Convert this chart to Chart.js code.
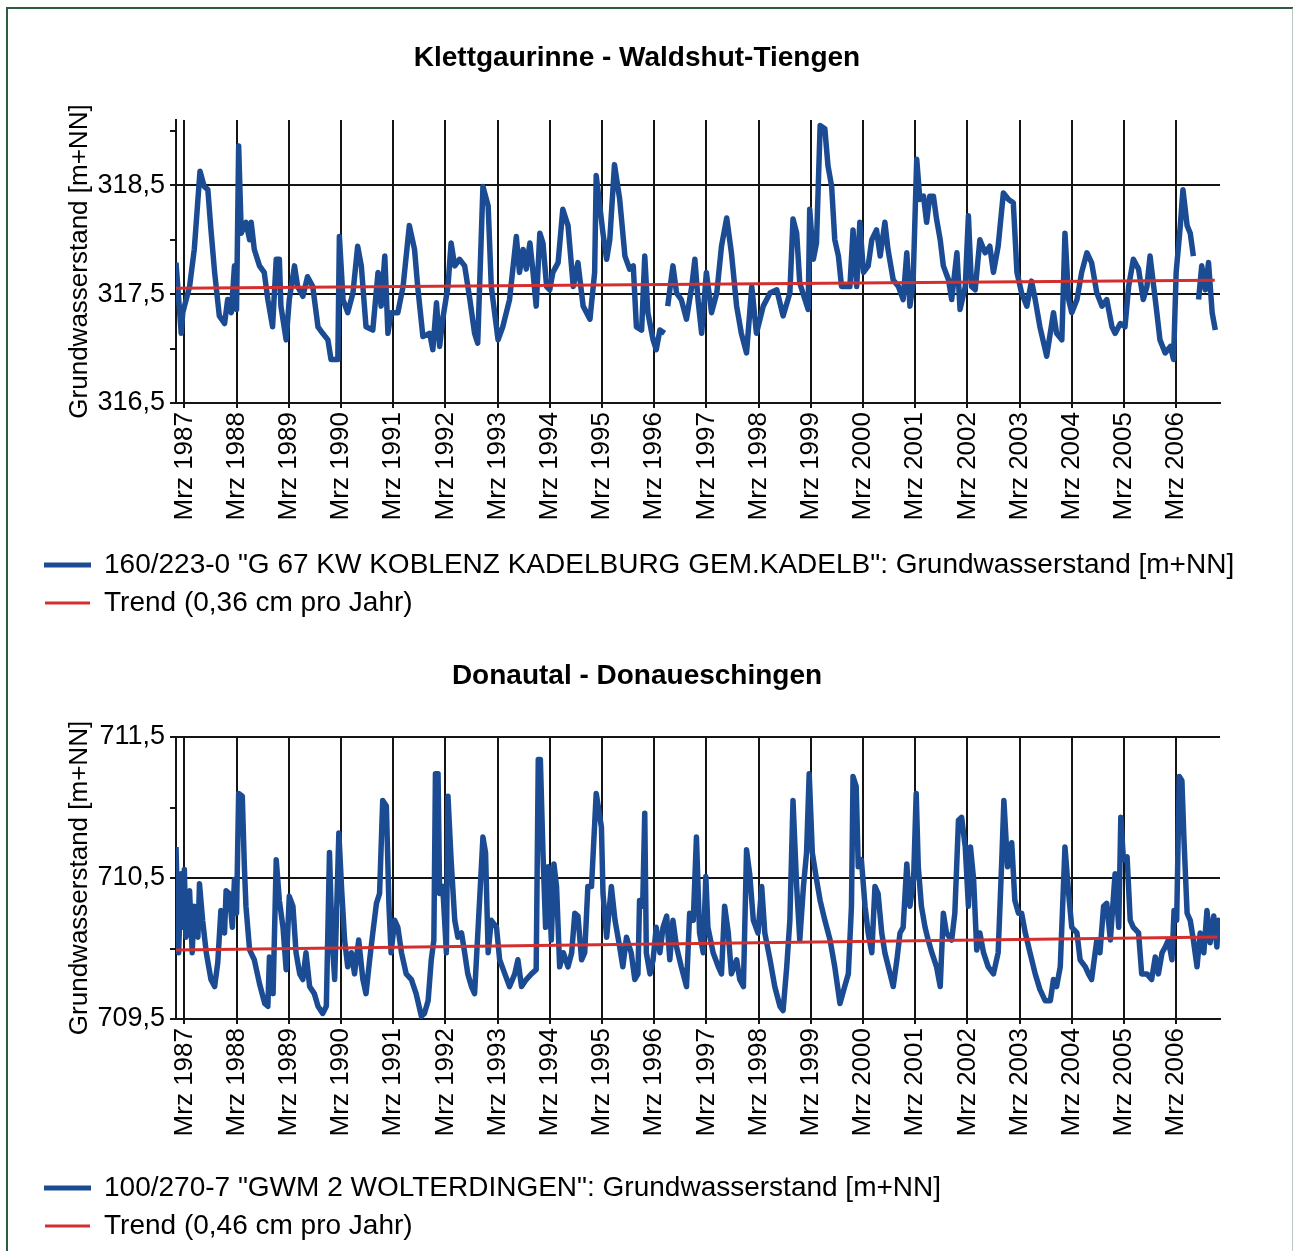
<!DOCTYPE html>
<html>
<head>
<meta charset="utf-8">
<script src="https://cdn.jsdelivr.net/npm/chart.js@4.4.1/dist/chart.umd.min.js"></script>
<style>
    html, body { margin: 0; padding: 0; background: #ffffff; }
    body { width: 1293px; height: 1251px; position: relative; overflow: hidden; }
    canvas { position: absolute; left: 0; }
    #frame {
        position: absolute; left: 6px; top: 7px; width: 1284px; height: 1300px;
        border-left: 2px solid #2e5b41; border-top: 2px solid #2e5b41; border-right: 2px solid #b9c9be;
        pointer-events: none;
    }
</style>
</head>
<body>
<canvas id="chartKlett" width="1293" height="627" style="top:0px"></canvas>
<canvas id="chartDonau" width="1293" height="624" style="top:627px"></canvas>
<div id="frame"></div>
<script>
// Axis ticks (one gridline each March)
const tickYears = [1987, 1988, 1989, 1990, 1991, 1992, 1993, 1994, 1995, 1996,
                   1997, 1998, 1999, 2000, 2001, 2002, 2003, 2004, 2005, 2006];
const tickLabels = tickYears.map(y => 'Mrz ' + y);

const klettTicks = [316.5, 317, 317.5, 318, 318.5, 319];
const klettLabelled = [316.5, 317.5, 318.5];
const donauTicks = [709.5, 710, 710.5, 711, 711.5];
const donauLabelled = [709.5, 710.5, 711.5];

// Groundwater level, Klettgaurinne (decimal year, m+NN); null = gap in record
const klettSeries = [
    [1987.00, 317.79], [1987.10, 317.14], [1987.13, 317.33], [1987.26, 317.57], [1987.35, 317.91], [1987.42, 318.37], [1987.46, 318.63],
    [1987.54, 318.49], [1987.61, 318.46], [1987.67, 318.09], [1987.74, 317.70], [1987.83, 317.30], [1987.93, 317.23], [1987.99, 317.45],
    [1988.06, 317.33], [1988.12, 317.76], [1988.16, 317.36], [1988.20, 318.86], [1988.25, 318.06], [1988.34, 318.16], [1988.41, 318.00],
    [1988.44, 318.16], [1988.50, 317.91], [1988.60, 317.76], [1988.69, 317.70], [1988.76, 317.45], [1988.85, 317.20], [1988.92, 317.82], [1988.98, 317.82],
    [1989.01, 317.39], [1989.11, 317.08], [1989.17, 317.45], [1989.27, 317.76], [1989.33, 317.57], [1989.43, 317.48], [1989.52, 317.66],
    [1989.62, 317.57], [1989.72, 317.20], [1989.81, 317.14], [1989.91, 317.08], [1989.97, 316.90],
    [1990.10, 316.90], [1990.13, 318.03], [1990.20, 317.45], [1990.29, 317.33], [1990.39, 317.51], [1990.48, 317.94], [1990.55, 317.76],
    [1990.64, 317.20], [1990.77, 317.17], [1990.87, 317.70], [1990.93, 317.39],
    [1991.00, 317.85], [1991.06, 317.14], [1991.12, 317.33], [1991.25, 317.33], [1991.35, 317.57], [1991.47, 318.13], [1991.57, 317.91],
    [1991.63, 317.57], [1991.73, 317.11], [1991.86, 317.14], [1991.92, 316.99], [1991.99, 317.42],
    [1992.05, 317.02], [1992.11, 317.27], [1992.21, 317.57], [1992.27, 317.97], [1992.34, 317.76], [1992.43, 317.82], [1992.53, 317.76],
    [1992.63, 317.45], [1992.72, 317.14], [1992.78, 317.05], [1992.88, 318.49], [1992.98, 318.31],
    [1993.04, 317.57], [1993.17, 317.08], [1993.26, 317.20], [1993.39, 317.45], [1993.52, 318.03], [1993.58, 317.70], [1993.65, 317.91],
    [1993.71, 317.73], [1993.78, 317.97], [1993.84, 317.70], [1993.90, 317.39], [1993.97, 318.06],
    [1994.03, 317.97], [1994.10, 317.57], [1994.16, 317.54], [1994.22, 317.70], [1994.32, 317.79], [1994.41, 318.28], [1994.51, 318.13],
    [1994.61, 317.57], [1994.70, 317.79], [1994.80, 317.39], [1994.93, 317.27],
    [1995.02, 317.70], [1995.05, 318.59], [1995.18, 318.06], [1995.25, 317.82], [1995.31, 318.00], [1995.40, 318.69], [1995.50, 318.37],
    [1995.60, 317.85], [1995.69, 317.73], [1995.76, 317.76], [1995.82, 317.20], [1995.92, 317.17], [1995.98, 317.85],
    [1996.04, 317.33], [1996.14, 317.08], [1996.20, 316.99], [1996.27, 317.17], [1996.36, 317.14], [1996.39, null], [1996.42, 317.39],
    [1996.46, 317.54], [1996.52, 317.76], [1996.59, 317.51], [1996.68, 317.45], [1996.78, 317.27], [1996.88, 317.57], [1996.94, 317.82],
    [1997.00, 317.45], [1997.07, 317.14], [1997.16, 317.70], [1997.26, 317.33], [1997.36, 317.51], [1997.45, 317.94], [1997.55, 318.20],
    [1997.64, 317.88], [1997.74, 317.39], [1997.83, 317.14], [1997.93, 316.96],
    [1998.03, 317.57], [1998.12, 317.14], [1998.25, 317.39], [1998.38, 317.51], [1998.51, 317.54], [1998.63, 317.30], [1998.76, 317.51],
    [1998.82, 318.19], [1998.89, 318.06], [1998.95, 317.60],
    [1999.05, 317.45], [1999.11, 317.36], [1999.14, 318.28], [1999.21, 317.82], [1999.27, 317.97], [1999.34, 319.05], [1999.43, 319.02],
    [1999.49, 318.68], [1999.56, 318.49], [1999.62, 318.00], [1999.69, 317.85], [1999.75, 317.57], [1999.81, 317.57], [1999.91, 317.57], [1999.97, 318.09],
    [2000.04, 317.57], [2000.10, 318.16], [2000.17, 317.70], [2000.26, 317.76], [2000.33, 318.00], [2000.42, 318.09], [2000.49, 317.85],
    [2000.58, 318.16], [2000.64, 317.91], [2000.74, 317.63], [2000.84, 317.57], [2000.93, 317.45],
    [2001.00, 317.88], [2001.06, 317.39], [2001.12, 317.60], [2001.19, 318.74], [2001.25, 318.37], [2001.32, 318.40], [2001.38, 318.16],
    [2001.44, 318.40], [2001.51, 318.40], [2001.57, 318.19], [2001.64, 318.00], [2001.70, 317.76], [2001.80, 317.63], [2001.86, 317.45], [2001.96, 317.88],
    [2002.02, 317.36], [2002.12, 317.57], [2002.18, 318.22], [2002.24, 317.57], [2002.31, 317.54], [2002.40, 318.00], [2002.50, 317.88],
    [2002.59, 317.94], [2002.66, 317.70], [2002.75, 317.94], [2002.85, 318.43], [2002.95, 318.37],
    [2003.04, 318.34], [2003.11, 317.70], [2003.20, 317.51], [2003.30, 317.39], [2003.39, 317.62], [2003.46, 317.45], [2003.55, 317.20],
    [2003.68, 316.93], [2003.81, 317.33], [2003.87, 317.14], [2003.97, 317.08],
    [2004.03, 318.06], [2004.10, 317.45], [2004.16, 317.33], [2004.26, 317.45], [2004.35, 317.70], [2004.45, 317.88], [2004.54, 317.79],
    [2004.64, 317.51], [2004.74, 317.39], [2004.83, 317.45], [2004.93, 317.20], [2004.99, 317.14],
    [2005.09, 317.23], [2005.18, 317.20], [2005.25, 317.57], [2005.34, 317.82], [2005.44, 317.73], [2005.53, 317.45], [2005.60, 317.57],
    [2005.66, 317.85], [2005.73, 317.57], [2005.79, 317.33], [2005.85, 317.08], [2005.95, 316.96],
    [2006.05, 317.02], [2006.11, 316.90], [2006.16, 317.70], [2006.24, 318.13], [2006.29, 318.46], [2006.37, 318.13], [2006.43, 318.06],
    [2006.49, 317.85], [2006.54, null], [2006.59, 317.45], [2006.65, 317.76], [2006.72, 317.54], [2006.78, 317.79], [2006.85, 317.33], [2006.91, 317.17]
];
const klettTrend = [[1987.00, 317.555], [2006.90, 317.627]];

// Groundwater level, Donautal (decimal year, m+NN)
const donauSeries = [
    [1987.00, 710.72], [1987.05, 709.97], [1987.10, 710.53], [1987.13, 710.15], [1987.16, 710.56], [1987.19, 710.08], [1987.26, 710.41],
    [1987.31, 709.97], [1987.35, 710.30], [1987.42, 710.08], [1987.45, 710.46], [1987.51, 710.20], [1987.58, 709.97], [1987.67, 709.78],
    [1987.74, 709.73], [1987.80, 709.90], [1987.86, 710.27], [1987.93, 710.11], [1987.96, 710.41],
    [1988.02, 710.39], [1988.08, 710.15], [1988.12, 710.49], [1988.16, 710.25], [1988.20, 711.10], [1988.27, 711.08], [1988.31, 710.58],
    [1988.34, 710.30], [1988.41, 709.99], [1988.50, 709.92], [1988.60, 709.75], [1988.70, 709.61], [1988.76, 709.59], [1988.79, 709.94],
    [1988.86, 709.68], [1988.92, 710.63], [1988.98, 710.34],
    [1989.05, 710.15], [1989.11, 709.85], [1989.17, 710.37], [1989.24, 710.30], [1989.30, 709.97], [1989.37, 709.82], [1989.43, 709.78],
    [1989.49, 709.97], [1989.56, 709.73], [1989.65, 709.68], [1989.72, 709.59], [1989.81, 709.54], [1989.88, 709.59], [1989.94, 710.68], [1989.99, 710.06],
    [1990.04, 709.78], [1990.12, 710.82], [1990.17, 710.44], [1990.23, 710.06], [1990.29, 709.87], [1990.36, 709.97], [1990.42, 709.82],
    [1990.50, 710.06], [1990.58, 709.78], [1990.64, 709.68], [1990.71, 709.92], [1990.77, 710.11], [1990.84, 710.32], [1990.90, 710.39], [1990.96, 711.05],
    [1991.03, 711.01], [1991.08, 710.30], [1991.12, 709.97], [1991.19, 710.20], [1991.25, 710.15], [1991.32, 709.97], [1991.41, 709.82],
    [1991.51, 709.78], [1991.60, 709.68], [1991.70, 709.52], [1991.76, 709.54], [1991.83, 709.63], [1991.89, 709.92], [1991.94, 710.06], [1991.97, 711.24],
    [1992.02, 711.24], [1992.05, 710.39], [1992.11, 710.44], [1992.18, 709.97], [1992.21, 711.08], [1992.27, 710.63], [1992.34, 710.20],
    [1992.40, 710.08], [1992.47, 710.11], [1992.53, 709.97], [1992.59, 709.82], [1992.66, 709.73], [1992.72, 709.68], [1992.82, 710.37],
    [1992.88, 710.79], [1992.93, 710.68], [1992.98, 709.97],
    [1993.04, 710.20], [1993.14, 710.15], [1993.20, 709.92], [1993.30, 709.82], [1993.39, 709.73], [1993.49, 709.82], [1993.55, 709.92],
    [1993.62, 709.73], [1993.71, 709.78], [1993.81, 709.82], [1993.90, 709.85], [1993.94, 711.34], [1993.98, 711.34],
    [1994.03, 710.68], [1994.08, 710.15], [1994.13, 710.58], [1994.19, 710.06], [1994.24, 710.60], [1994.29, 710.44], [1994.35, 709.87],
    [1994.42, 709.97], [1994.51, 709.87], [1994.58, 709.97], [1994.64, 710.25], [1994.70, 710.23], [1994.77, 709.92], [1994.83, 709.97],
    [1994.89, 710.44], [1994.96, 710.44],
    [1995.05, 711.10], [1995.15, 710.86], [1995.18, 710.39], [1995.25, 710.08], [1995.34, 710.44], [1995.41, 710.20], [1995.50, 710.01],
    [1995.56, 709.87], [1995.63, 710.08], [1995.72, 709.97], [1995.79, 709.78], [1995.85, 709.82], [1995.88, 710.34], [1995.94, 710.30], [1995.98, 710.96],
    [1996.01, 709.97], [1996.08, 709.82], [1996.14, 709.92], [1996.20, 710.15], [1996.27, 709.97], [1996.33, 710.15], [1996.40, 710.23],
    [1996.46, 709.92], [1996.52, 710.20], [1996.59, 710.01], [1996.68, 709.87], [1996.78, 709.73], [1996.84, 710.25], [1996.91, 710.20], [1996.97, 710.79],
    [1997.03, 710.11], [1997.10, 709.97], [1997.15, 710.51], [1997.19, 710.15], [1997.29, 709.97], [1997.39, 709.87], [1997.45, 709.82],
    [1997.51, 710.30], [1997.58, 710.11], [1997.64, 709.82], [1997.74, 709.92], [1997.80, 709.78], [1997.87, 709.73], [1997.93, 710.70], [1997.99, 710.53],
    [1998.06, 710.20], [1998.15, 710.11], [1998.22, 710.44], [1998.28, 710.11], [1998.38, 709.92], [1998.47, 709.73], [1998.57, 709.59],
    [1998.63, 709.56], [1998.70, 709.87], [1998.76, 710.20], [1998.82, 711.05], [1998.89, 710.44], [1998.95, 710.06],
    [1999.02, 710.44], [1999.08, 710.68], [1999.13, 711.24], [1999.19, 710.68], [1999.27, 710.49], [1999.34, 710.34], [1999.43, 710.20],
    [1999.53, 710.06], [1999.62, 709.87], [1999.72, 709.61], [1999.81, 709.73], [1999.88, 709.82], [1999.94, 710.30], [1999.97, 711.22],
    [2000.03, 711.15], [2000.07, 710.58], [2000.13, 710.63], [2000.20, 710.30], [2000.26, 710.11], [2000.33, 709.97], [2000.39, 710.44],
    [2000.45, 710.39], [2000.52, 710.11], [2000.58, 709.97], [2000.68, 709.82], [2000.74, 709.73], [2000.81, 709.92], [2000.87, 710.11], [2000.93, 710.15],
    [2001.00, 710.60], [2001.06, 710.30], [2001.13, 710.49], [2001.18, 711.10], [2001.22, 710.58], [2001.28, 710.30], [2001.35, 710.15],
    [2001.41, 710.06], [2001.48, 709.97], [2001.57, 709.87], [2001.64, 709.73], [2001.70, 710.25], [2001.76, 710.11], [2001.86, 710.06],
    [2001.92, 710.25], [2001.99, 710.91],
    [2002.05, 710.93], [2002.12, 710.72], [2002.18, 710.30], [2002.22, 710.72], [2002.28, 710.49], [2002.34, 709.99], [2002.40, 710.11],
    [2002.47, 709.97], [2002.56, 709.87], [2002.66, 709.82], [2002.75, 709.97], [2002.82, 710.63], [2002.86, 711.05], [2002.93, 710.58],
    [2003.01, 710.75], [2003.07, 710.34], [2003.14, 710.25], [2003.20, 710.25], [2003.27, 710.11], [2003.36, 709.97], [2003.46, 709.82],
    [2003.55, 709.71], [2003.65, 709.63], [2003.75, 709.63], [2003.81, 709.78], [2003.87, 709.73], [2003.94, 709.87],
    [2004.03, 710.72], [2004.10, 710.39], [2004.16, 710.15], [2004.26, 710.11], [2004.32, 709.92], [2004.42, 709.87], [2004.48, 709.82],
    [2004.54, 709.78], [2004.64, 710.06], [2004.70, 709.97], [2004.77, 710.30], [2004.83, 710.32], [2004.90, 710.06], [2004.99, 710.53],
    [2005.06, 710.15], [2005.10, 710.93], [2005.15, 710.63], [2005.22, 710.65], [2005.28, 710.20], [2005.34, 710.15], [2005.44, 710.11],
    [2005.50, 709.82], [2005.60, 709.82], [2005.69, 709.78], [2005.76, 709.94], [2005.82, 709.82], [2005.89, 709.97], [2005.95, 710.01],
    [2006.01, 710.06], [2006.08, 709.92], [2006.12, 710.27], [2006.17, 710.20], [2006.22, 711.22], [2006.27, 711.19], [2006.31, 710.77],
    [2006.37, 710.25], [2006.43, 710.20], [2006.49, 710.06], [2006.56, 709.87], [2006.62, 710.11], [2006.69, 709.97], [2006.75, 710.27],
    [2006.81, 710.04], [2006.88, 710.23], [2006.94, 710.01], [2006.97, 710.20], [2007.00, 710.08]
];
const donauTrend = [[1987.00, 709.99], [2006.95, 710.082]];

document.addEventListener('DOMContentLoaded', function () {
    const FONT = "'Liberation Sans', Arial, sans-serif";
    const BLUE = '#1b4c93';
    const RED = '#d42f2f';
    const GRID = '#141414';
    const MARCH = 59 / 365;   // 1 March as fraction of a year

    const toPoints = arr => arr.map(p => ({ x: p[0], y: p[1] }));

    // ================================
    // One groundwater panel
    // ================================
    function buildChart(id, cfg) {
        return new Chart(document.getElementById(id), {
            type: 'line',
            data: {
                datasets: [{
                    label: cfg.seriesLabel,
                    data: toPoints(cfg.series),
                    borderColor: BLUE,
                    borderWidth: 5.5,
                    borderJoinStyle: 'round',
                    pointRadius: 0,
                    spanGaps: false,
                    order: 2
                }, {
                    label: cfg.trendLabel,
                    data: toPoints(cfg.trend),
                    borderColor: RED,
                    borderWidth: 3,
                    pointRadius: 0,
                    order: 1                                // trend drawn over the series
                }]
            },
            options: {
                responsive: false,
                animation: false,
                devicePixelRatio: 1,
                layout: { padding: { top: cfg.padTop, left: 35, right: 54, bottom: cfg.padBottom } },
                plugins: {
                    title: {
                        display: true,
                        text: cfg.title,
                        color: '#000',
                        font: { family: FONT, size: 28, weight: 'bold' },
                        padding: { top: 22, bottom: cfg.titleGap }
                    },
                    legend: {
                        position: 'bottom',
                        align: 'start',
                        labels: {
                            boxWidth: 45,
                            boxHeight: 3,
                            padding: 10,
                            color: '#000',
                            font: { family: FONT, size: 28 },
                            generateLabels: chart => chart.data.datasets.map((ds, i) => ({
                                text: ds.label,
                                fillStyle: ds.borderColor,
                                strokeStyle: ds.borderColor,
                                lineWidth: i === 0 ? 2 : 0,
                                fontColor: '#000',
                                hidden: false,
                                datasetIndex: i
                            }))
                        }
                    },
                    tooltip: { enabled: false }
                },
                scales: {
                    x: {
                        type: 'linear',
                        min: 1987,
                        max: 2007,
                        afterBuildTicks: s => { s.ticks = tickYears.map(y => ({ value: y + MARCH })); },
                        afterFit: s => { s.height = cfg.xHeight; },
                        grid: { color: GRID, lineWidth: 2, tickLength: 5 },
                        border: { color: GRID, width: 2 },
                        ticks: {
                            autoSkip: false,
                            minRotation: 90,
                            maxRotation: 90,
                            padding: 4,
                            color: '#000',
                            font: { family: FONT, size: 26 },
                            callback: (v, i) => tickLabels[i]
                        }
                    },
                    y: {
                        min: cfg.yMin,
                        max: cfg.yMax,
                        afterBuildTicks: s => { s.ticks = cfg.yTicks.map(v => ({ value: v })); },
                        afterFit: s => { s.width = 141; },
                        grid: {
                            color: c => cfg.yLabelled.includes(c.tick.value) ? GRID : 'rgba(0,0,0,0)',
                            tickColor: GRID,
                            lineWidth: 2,
                            tickLength: 6
                        },
                        border: { color: GRID, width: 2 },
                        ticks: {
                            padding: 5,
                            color: '#000',
                            font: { family: FONT, size: 27 },
                            callback: v => cfg.yLabelled.includes(v) ? v.toFixed(1).replace('.', ',') : ''
                        },
                        title: {
                            display: true,
                            text: 'Grundwasserstand [m+NN]',
                            color: '#000',
                            font: { family: FONT, size: 26 },
                            padding: { top: 29, bottom: 0 }
                        }
                    },
                    // empty spacer on the right so the plot ends short of the legend's full width
                    spacer: {
                        type: 'linear',
                        position: 'right',
                        min: 0,
                        max: 1,
                        afterFit: s => { s.width = 19; },
                        grid: { display: false },
                        border: { display: false },
                        ticks: { display: false }
                    }
                }
            }
        });
    }

    buildChart('chartKlett', {
        title: 'Klettgaurinne - Waldshut-Tiengen',
        seriesLabel: '160/223-0 "G 67 KW KOBLENZ KADELBURG GEM.KADELB": Grundwasserstand [m+NN]',
        trendLabel: 'Trend (0,36 cm pro Jahr)',
        series: klettSeries,
        trend: klettTrend,
        yMin: 316.5,
        yMax: 319.1,
        yTicks: klettTicks,
        yLabelled: klettLabelled,
        padTop: 19,
        titleGap: 45.4,
        xHeight: 138,
        padBottom: 0
    });

    buildChart('chartDonau', {
        title: 'Donautal - Donaueschingen',
        seriesLabel: '100/270-7 "GWM 2 WOLTERDINGEN": Grundwasserstand [m+NN]',
        trendLabel: 'Trend (0,46 cm pro Jahr)',
        series: donauSeries,
        trend: donauTrend,
        yMin: 709.5,
        yMax: 711.5,
        yTicks: donauTicks,
        yLabelled: donauLabelled,
        padTop: 10,
        titleGap: 44.4,
        xHeight: 145,
        padBottom: 1
    });
});
</script>
</body>
</html>
